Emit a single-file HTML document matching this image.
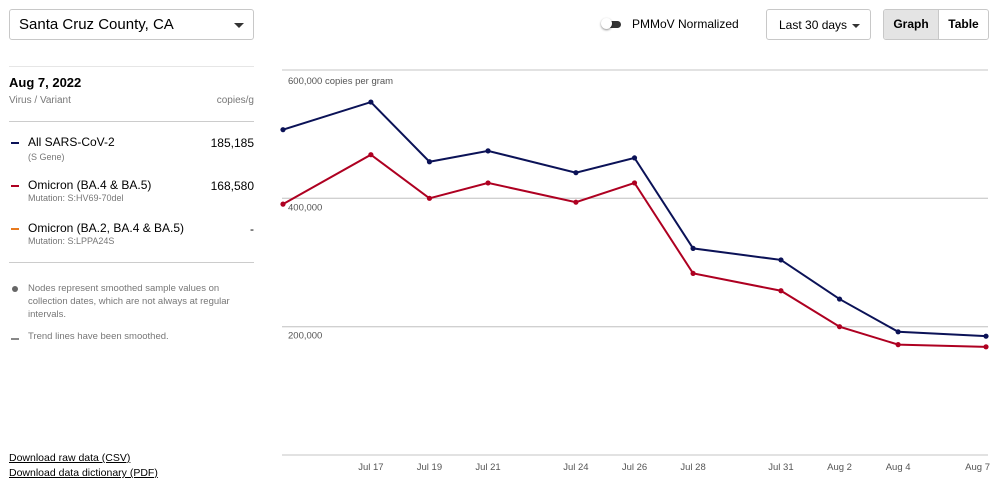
<!DOCTYPE html>
<html><head><meta charset="utf-8">
<style>
body{margin:0;width:1000px;height:489px;background:#fff;font-family:"Liberation Sans",sans-serif;color:#000;position:relative;overflow:hidden}
.abs{position:absolute}
.gray{color:#777}
a{color:#000}
</style></head>
<body>
<div class="abs" style="left:9px;top:9px;width:245px;height:31px;border:1px solid #c8c8c8;border-radius:3px;box-sizing:border-box">
  <span class="abs" style="left:9px;top:6px;font-size:15px">Santa Cruz County, CA</span>
  <span class="abs" style="right:9px;top:13px;width:0;height:0;border-left:5px solid transparent;border-right:5px solid transparent;border-top:5px solid #333"></span>
</div>
<div class="abs" style="left:9px;top:66px;width:245px;border-top:1px solid #e6e6e6"></div>
<div class="abs" style="left:9px;top:75px;font-size:13px;font-weight:bold">Aug 7, 2022</div>
<div class="abs gray" style="left:9px;top:95px;font-size:10px">Virus / Variant</div>
<div class="abs gray" style="right:746px;top:95px;font-size:10px">copies/g</div>
<div class="abs" style="left:9px;top:121px;width:245px;border-top:1px solid #ccc"></div>

<div class="abs" style="left:9px;top:135px;width:245px">
  <span class="abs" style="left:2px;top:7px;width:8px;height:2px;background:#0b1257"></span>
  <span class="abs" style="left:19px;top:0;font-size:12px">All SARS-CoV-2</span>
  <span class="abs gray" style="left:19px;top:17px;font-size:9px">(S Gene)</span>
  <span class="abs" style="right:0;top:1px;font-size:12px">185,185</span>
</div>
<div class="abs" style="left:9px;top:178px;width:245px">
  <span class="abs" style="left:2px;top:7px;width:8px;height:2px;background:#ae0021"></span>
  <span class="abs" style="left:19px;top:0;font-size:12px">Omicron (BA.4 &amp; BA.5)</span>
  <span class="abs gray" style="left:19px;top:15px;font-size:9px">Mutation: S:HV69-70del</span>
  <span class="abs" style="right:0;top:1px;font-size:12px">168,580</span>
</div>
<div class="abs" style="left:9px;top:221px;width:245px">
  <span class="abs" style="left:2px;top:7px;width:8px;height:2px;background:#e87a1e"></span>
  <span class="abs" style="left:19px;top:0;font-size:12px">Omicron (BA.2, BA.4 &amp; BA.5)</span>
  <span class="abs gray" style="left:19px;top:15px;font-size:9px">Mutation: S:LPPA24S</span>
  <span class="abs" style="right:0;top:1px;font-size:12px">-</span>
</div>
<div class="abs" style="left:9px;top:262px;width:245px;border-top:1px solid #ccc"></div>
<div class="abs gray" style="left:9px;top:282px;width:245px;font-size:9.5px;line-height:13px">
  <span class="abs" style="left:3px;top:4px;width:6px;height:6px;border-radius:50%;background:#666"></span>
  <div style="margin-left:19px">Nodes represent smoothed sample values on collection dates, which are not always at regular intervals.</div>
</div>
<div class="abs gray" style="left:9px;top:331px;font-size:9.5px">
  <span class="abs" style="left:2px;top:7px;width:8px;height:2px;background:#888"></span>
  <span style="margin-left:19px">Trend lines have been smoothed.</span>
</div>
<a class="abs" href="#" style="left:9px;top:452px;font-size:10.5px">Download raw data (CSV)</a>
<a class="abs" href="#" style="left:9px;top:467px;font-size:10.5px">Download data dictionary (PDF)</a>

<div class="abs" style="left:601px;top:20px;width:22px;height:8px">
  <span class="abs" style="left:5px;top:1px;width:15px;height:7px;border-radius:4px;background:#333"></span>
  <span class="abs" style="left:0;top:-2px;width:11px;height:11px;border-radius:50%;background:#fff;box-shadow:0 1px 2px rgba(0,0,0,.45)"></span>
</div>
<div class="abs" style="left:632px;top:17px;font-size:12px">PMMoV Normalized</div>
<div class="abs" style="left:766px;top:9px;width:105px;height:31px;border:1px solid #c8c8c8;border-radius:3px;box-sizing:border-box">
  <span class="abs" style="left:12px;top:8px;font-size:12px">Last 30 days</span>
  <span class="abs" style="right:10px;top:14px;border-left:4px solid transparent;border-right:4px solid transparent;border-top:4px solid #333"></span>
</div>
<div class="abs" style="left:883px;top:9px;width:106px;height:31px;border:1px solid #c8c8c8;border-radius:3px;box-sizing:border-box;display:flex;font-size:12px;font-weight:bold;overflow:hidden">
  <div style="width:54px;background:#e4e4e4;border-right:1px solid #c8c8c8;text-align:center;line-height:29px">Graph</div>
  <div style="flex:1;text-align:center;line-height:29px">Table</div>
</div>

<svg class="abs" style="left:0;top:0" width="1000" height="489" id="chart"></svg>
<script>
const days=[0,3,5,7,10,12,14,17,19,21,24];
const tickLabels=["","Jul 17","Jul 19","Jul 21","Jul 24","Jul 26","Jul 28","Jul 31","Aug 2","Aug 4","Aug 7"];
const allSars=[507000,550000,457000,474000,440000,463000,322000,304000,243000,192000,185185];
const omicronBA45=[391000,468000,400000,424000,394000,424000,283000,256000,200000,172000,168580];
const yTicks=[0,200000,400000,600000];
const yTickLabels=["","200,000","400,000","600,000 copies per gram"];
const NS="http://www.w3.org/2000/svg";
const svg=document.getElementById('chart');
function x(d){return 283+d*(986-283)/24;}
function y(v){return 455-v*(455-70)/600000;}
function mk(t,a){const e=document.createElementNS(NS,t);for(const k in a)e.setAttribute(k,a[k]);svg.appendChild(e);return e;}
yTicks.forEach((v,i)=>{
  const l=mk('line',{x1:282,x2:988,y1:y(v),y2:y(v),stroke:'#d0d0d0','stroke-width':1.3});
  
  
  if(yTickLabels[i]){
    const t=mk('text',{x:288,y:y(v)+(i==3?14:12),'font-size':9.5,fill:'#555','font-family':'Liberation Sans, sans-serif'});
    t.textContent=yTickLabels[i];
    
    
  }
});
days.forEach((d,i)=>{
  if(!tickLabels[i])return;
  const t=mk('text',{x:x(d),y:470,'font-size':9.5,fill:'#555','text-anchor':i==days.length-1?'end':'middle','font-family':'Liberation Sans, sans-serif'});
  if(i==days.length-1)t.setAttribute('x',x(d)+4);
  t.textContent=tickLabels[i];
  
  
});
function series(vals,color,name){
  const p=mk('polyline',{points:vals.map((v,i)=>x(days[i])+','+y(v)).join(' '),fill:'none',stroke:color,'stroke-width':2});
  
  
  vals.forEach((v,i)=>{
    const c=mk('circle',{cx:x(days[i]),cy:y(v),r:2.6,fill:color});
    
    
  });
}
series(omicronBA45,'#ae0021','omicron-ba4-ba5');
series(allSars,'#0b1257','all-sars-cov-2');
</script>
</body></html>
